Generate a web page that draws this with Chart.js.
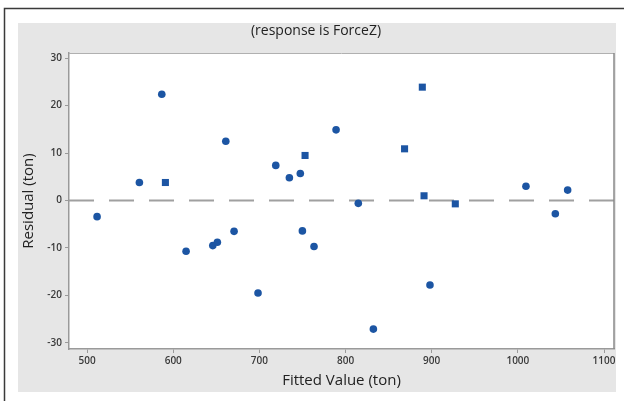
<!DOCTYPE html>
<html>
<head>
<meta charset="utf-8">
<title>Residuals vs Fits</title>
<script src="https://cdn.jsdelivr.net/npm/chart.js@4.4.1/dist/chart.umd.min.js"></script>
<style>
  html, body { margin:0; padding:0; background:#fff; }
  canvas { display:block; }
</style>
</head>
<body>
<canvas id="residChart" width="624" height="401"></canvas>
<script>
// Residuals vs fitted values (response is ForceZ)
const circleFits  = [511.6, 560.7, 586.7, 614.9, 645.9, 651.2, 661.0, 670.6, 698.4, 719.0, 734.8, 747.5, 749.9, 763.4, 789.0, 814.8, 832.3, 898.0, 1009.4, 1043.5, 1057.8];
const circleResid = [-3.4, 3.8, 22.4, -10.7, -9.5, -8.8, 12.5, -6.5, -19.5, 7.4, 4.8, 5.7, -6.4, -9.7, 14.9, -0.6, -27.1, -17.8, 3.0, -2.8, 2.2];
const squareFits  = [590.9, 753.0, 868.5, 889.1, 891.1, 927.4];
const squareResid = [3.8, 9.5, 10.9, 23.9, 1.0, -0.7];
const xTicks = [500, 600, 700, 800, 900, 1000, 1100];
const yTicks = [-30, -20, -10, 0, 10, 20, 30];
const refResid = 0;

const BLUE = '#1c55a3';
const toPts = (xs, ys) => xs.map((x, i) => ({ x, y: ys[i] }));

// page frame, grey panel, white plot area, reference line
const framePlugin = {
  id: 'frame',
  beforeDraw(chart) {
    const { ctx, chartArea: a } = chart;
    ctx.save();
    ctx.fillStyle = '#fff';
    ctx.fillRect(0, 0, chart.width, chart.height);
    ctx.strokeStyle = '#3a3a3a';
    ctx.lineWidth = 1.5;
    ctx.beginPath();
    ctx.moveTo(4.5, chart.height); ctx.lineTo(4.5, 8.5); ctx.lineTo(chart.width, 8.5);
    ctx.stroke();
    ctx.fillStyle = '#e6e6e6';
    ctx.fillRect(18, 23, 598, 369);
    ctx.fillStyle = '#fff';
    ctx.fillRect(a.left, a.top, a.right - a.left, a.bottom - a.top);
    ctx.restore();
  },
  beforeDatasetsDraw(chart) {
    const { ctx, chartArea: a } = chart;
    const y0 = chart.scales.y.getPixelForValue(refResid);
    ctx.save();
    ctx.strokeStyle = '#a0a0a0';
    ctx.lineWidth = 2;
    ctx.setLineDash([25, 15]);
    ctx.beginPath(); ctx.moveTo(a.left, y0); ctx.lineTo(a.right, y0); ctx.stroke();
    ctx.setLineDash([]);
    ctx.lineWidth = 1;
    ctx.strokeStyle = '#b0b0b0';
    ctx.beginPath(); ctx.moveTo(a.left, a.top + 0.5); ctx.lineTo(a.right, a.top + 0.5); ctx.stroke();
    ctx.strokeStyle = '#8a8a8a';
    ctx.lineWidth = 1.5;
    ctx.beginPath(); ctx.moveTo(a.right, a.top); ctx.lineTo(a.right, a.bottom); ctx.stroke();
    ctx.restore();
  }
};

const tickFont = { family: "'Open Sans', sans-serif", size: 10, weight: '600' };
const titleFont = { family: "'Open Sans', sans-serif", size: 15 };

new Chart(document.getElementById('residChart'), {
  type: 'scatter',
  data: {
    datasets: [
      { label: 'circle', data: toPts(circleFits, circleResid), pointStyle: 'circle', pointRadius: 3.8,
        backgroundColor: BLUE, borderColor: BLUE, borderWidth: 0 },
      { label: 'square', data: toPts(squareFits, squareResid), pointStyle: 'rect', pointRadius: 5,
        backgroundColor: BLUE, borderColor: BLUE, borderWidth: 0 }
    ]
  },
  options: {
    responsive: false,
    animation: false,
    layout: { padding: { left: 18, right: 10, top: 0, bottom: 0 } },
    plugins: {
      legend: { display: false },
      tooltip: { enabled: false },
      title: {
        display: true, text: '(response is ForceZ)', color: '#222',
        font: { family: "'Open Sans', sans-serif", size: 14, weight: 'normal' },
        padding: { top: 22.6, bottom: 13.6 }
      }
    },
    scales: {
      x: {
        type: 'linear', min: 479, max: 1111.6,
        afterBuildTicks: s => { s.ticks = xTicks.map(v => ({ value: v })); },
        afterFit: s => { s.height = 52; },
        ticks: { color: '#3a3a3a', font: tickFont, padding: 2, maxRotation: 0, callback: v => String(v) },
        grid: { drawOnChartArea: false, drawTicks: true, tickLength: 4, tickColor: '#9a9a9a' },
        border: { display: true, color: '#9a9a9a', width: 1.5 },
        title: { display: true, text: 'Fitted Value (ton)', color: '#222', font: titleFont, padding: { top: 0, bottom: 11 } }
      },
      y: {
        type: 'linear', min: -31.3, max: 31.1,
        afterBuildTicks: s => { s.ticks = yTicks.map(v => ({ value: v })); },
        afterFit: s => { s.width = 51; },
        ticks: { color: '#3a3a3a', font: tickFont, padding: 3, callback: v => String(v) },
        grid: { drawOnChartArea: false, drawTicks: true, tickLength: 4, tickColor: '#9a9a9a' },
        border: { display: true, color: '#9a9a9a', width: 1.5 },
        title: { display: true, text: 'Residual (ton)', color: '#222', font: titleFont, padding: { top: 1.5, bottom: 0 } }
      }
    }
  },
  plugins: [framePlugin]
});
</script>
</body>
</html>
